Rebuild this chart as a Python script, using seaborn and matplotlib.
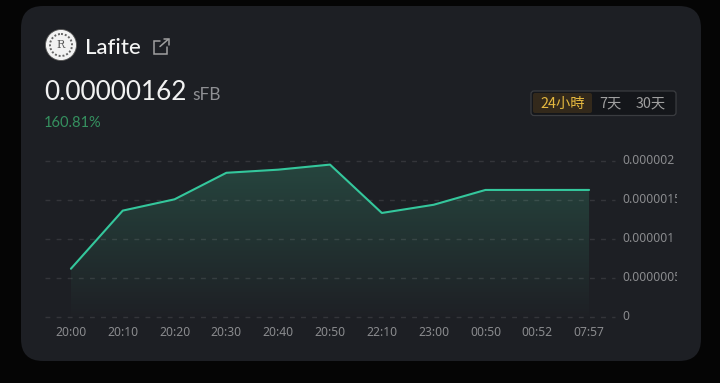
import numpy as np
import pandas as pd
import matplotlib
matplotlib.use("Agg")
import matplotlib.pyplot as plt
import seaborn as sns
from matplotlib.patches import FancyBboxPatch, Circle
from matplotlib.transforms import Bbox, ScaledTranslation
from matplotlib.colors import to_rgb

times = ["20:00", "20:10", "20:20", "20:30", "20:40", "20:50", "22:10", "23:00", "00:50", "00:52", "07:57"]
prices = [0.615e-6, 1.36e-6, 1.505e-6, 1.845e-6, 1.885e-6, 1.95e-6, 1.33e-6, 1.435e-6, 1.625e-6, 1.625e-6, 1.625e-6]
y_ticks = [0, 0.5e-6, 1e-6, 1.5e-6, 2e-6]
y_labels = ["0", "0.0000005", "0.000001", "0.0000015", "0.000002"]
ranges = ["24小時", "7天", "30天"]

W, H = 720, 383
sns.set_theme(style="dark")
plt.rcParams["font.family"] = ["Noto Sans CJK TC", "DejaVu Sans"]
fig = plt.figure(figsize=(W / 100, H / 100), dpi=100, facecolor="#050505")

# page layer in pixel coordinates
bg = fig.add_axes([0, 0, 1, 1], zorder=0)
bg.set_xlim(0, W); bg.set_ylim(H, 0); bg.axis("off")
R = 22
bg.add_patch(FancyBboxPatch((21 + R, 6 + R), 680 - 2 * R, 355 - 2 * R,
                            boxstyle=f"round,pad={R},rounding_size={R}",
                            fc="#1d1f24", ec="none"))
# logo
bg.add_patch(Circle((61, 45), 15.5, fc="#f2f2f2", ec="#555555", lw=0.6))
bg.add_patch(Circle((61, 45), 11, fc="none", ec="#666666", lw=1.4, ls=(0, (1, 1))))
bg.text(61, 45.5, "R", color="#555555", fontsize=8, ha="center", va="center", family="DejaVu Serif")
bg.text(85, 48, "Lafite", color="#f4f4f4", fontsize=16, family="Lato", va="center", fontweight="medium")
# external-link icon
ic = "#a0a0a0"
bg.plot([160, 154, 154, 167, 167], [40.5, 40.5, 53.5, 53.5, 47], color=ic, lw=1.1, solid_joinstyle="miter")
bg.plot([160, 168], [46.5, 39.5], color=ic, lw=1.1)
bg.plot([163.5, 169, 169], [39, 39, 44.5], color=ic, lw=1.1, solid_joinstyle="miter")
# price block
bg.text(44, 92.5, "0.00000162", color="#f2f2f2", fontsize=18.8, family="Lato", va="center")
bg.text(192, 95.5, "sFB", color="#8f9094", fontsize=12.5, family="Lato", va="center")
bg.text(44, 123, "160.81%", color="#35905f", fontsize=10.5, family="Lato", va="center")
# range selector
bg.add_patch(FancyBboxPatch((531, 91), 145, 24.5, boxstyle="round,pad=0,rounding_size=3",
                            fc="#14161a", ec="#3a3c40", lw=0.9))
bg.add_patch(FancyBboxPatch((533, 93), 59, 20, boxstyle="round,pad=0,rounding_size=2",
                            fc="#33291b", ec="none"))
bg.text(562.5, 103.5, ranges[0], color="#e6b93f", fontsize=10.3, ha="center", va="center")
bg.text(610.5, 103.5, ranges[1], color="#a0a0a0", fontsize=10.3, ha="center", va="center")
bg.text(650.5, 103.5, ranges[2], color="#a0a0a0", fontsize=10.3, ha="center", va="center")

# chart
ax = fig.add_axes([45 / W, 1 - 316.7 / H, 570 / W, 156 / H], zorder=1)
ax.patch.set_alpha(0)
pos = np.arange(len(times))
df = pd.DataFrame({"pos": pos, "price": prices})
ax.set_xlim(-0.5, len(times) - 0.5)
ax.set_ylim(0, 2e-6)

poly = ax.fill_between(df["pos"], df["price"], 0, color="none", lw=0)
top_c, bot_c = np.array(to_rgb("#26453e")), np.array(to_rgb("#1e2025"))
t = np.linspace(0, 1, 256)[:, None]
grad = (top_c * (1 - t) + bot_c * t)[:, None, :]
top = max(prices)
im = ax.imshow(grad, extent=(0, len(times) - 1, 0, top), origin="upper",
               aspect="auto", zorder=2, interpolation="bilinear")
im.set_clip_path(poly.get_paths()[0], transform=ax.transData)
ax.set_xlim(-0.5, len(times) - 0.5)
ax.set_ylim(0, 2e-6)

for v in y_ticks:
    ax.axhline(v, color="#ffffff", alpha=0.1, lw=1, ls=(0, (3.5, 4.5)), clip_on=False, zorder=2.5)

sns.lineplot(data=df, x="pos", y="price", ax=ax, color="#34c79c", lw=1.5, zorder=3)

ax.set_xlabel(""); ax.set_ylabel("")
ax.grid(False)
for s in ax.spines.values():
    s.set_visible(False)
ax.set_xticks(pos, times)
ax.set_yticks(y_ticks, y_labels)
ax.yaxis.tick_right()
ax.tick_params(axis="both", length=0, labelsize=8.7, labelcolor="#8a8b8e")
ax.tick_params(axis="x", pad=7)
ax.tick_params(axis="y", pad=5.5)

clip = Bbox([[600, 0], [677, H]])
up = ScaledTranslation(0, 1.5 / 100, fig.dpi_scale_trans)
for lab in ax.get_yticklabels():
    lab.set_clip_on(True)
    lab.set_clip_box(clip)
    lab.set_family(["Noto Sans", "DejaVu Sans"])
    lab.set_transform(lab.get_transform() + up)
for lab in ax.get_xticklabels():
    lab.set_family(["Noto Sans", "DejaVu Sans"])

fig.savefig("out.png", dpi=100, facecolor=fig.get_facecolor())
